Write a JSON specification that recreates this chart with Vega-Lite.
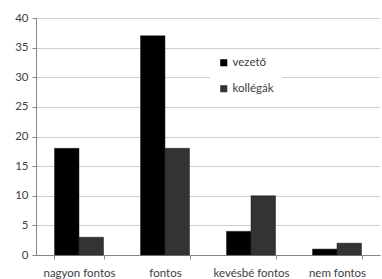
{
  "$schema": "https://vega.github.io/schema/vega-lite/v6.json",
  "width": 344,
  "height": 237,
  "padding": {"left": 36, "top": 18, "right": 2, "bottom": 24},
  "autosize": {"type": "none"},
  "background": "white",
  "config": {
    "view": {"stroke": null},
    "font": "Lato"
  },
  "data": {
    "values": [
      {"kat": "nagyon fontos", "sor": "vezető", "ertek": 18},
      {"kat": "nagyon fontos", "sor": "kollégák", "ertek": 3},
      {"kat": "fontos", "sor": "vezető", "ertek": 37},
      {"kat": "fontos", "sor": "kollégák", "ertek": 18},
      {"kat": "kevésbé fontos", "sor": "vezető", "ertek": 4},
      {"kat": "kevésbé fontos", "sor": "kollégák", "ertek": 10},
      {"kat": "nem fontos", "sor": "vezető", "ertek": 1},
      {"kat": "nem fontos", "sor": "kollégák", "ertek": 2}
    ]
  },
  "mark": {"type": "bar", "stroke": "#222222", "strokeWidth": 0.5},
  "encoding": {
    "x": {
      "field": "kat",
      "type": "nominal",
      "sort": ["nagyon fontos", "fontos", "kevésbé fontos", "nem fontos"],
      "scale": {"paddingInner": 0.43, "paddingOuter": 0.215},
      "axis": {
        "title": null,
        "labelAngle": 0,
        "tickBand": "extent",
        "labelFontSize": 11.5,
        "labelColor": "#404040",
        "labelPadding": 8,
        "domainColor": "#868686",
        "tickColor": "#868686",
        "tickSize": 4,
        "grid": false
      }
    },
    "xOffset": {
      "field": "sor",
      "type": "nominal",
      "sort": ["vezető", "kollégák"]
    },
    "y": {
      "field": "ertek",
      "type": "quantitative",
      "scale": {"domain": [0, 40], "nice": false},
      "axis": {
        "title": null,
        "values": [0, 5, 10, 15, 20, 25, 30, 35, 40],
        "labelFontSize": 11.5,
        "labelColor": "#404040",
        "labelPadding": 4,
        "domainColor": "#868686",
        "tickColor": "#868686",
        "tickSize": 4,
        "gridColor": "#d0d0d0",
        "gridWidth": 1
      }
    },
    "color": {
      "field": "sor",
      "type": "nominal",
      "sort": ["vezető", "kollégák"],
      "scale": {"domain": ["vezető", "kollégák"], "range": ["#000000", "#333333"]},
      "legend": {
        "title": null,
        "orient": "none",
        "legendX": 174,
        "legendY": 31,
        "fillColor": "white",
        "padding": 8,
        "symbolType": "square",
        "symbolSize": 50,
        "symbolStrokeWidth": 0,
        "labelFontSize": 11.5,
        "labelColor": "#404040",
        "labelOffset": 3,
        "rowPadding": 13
      }
    }
  }
}
